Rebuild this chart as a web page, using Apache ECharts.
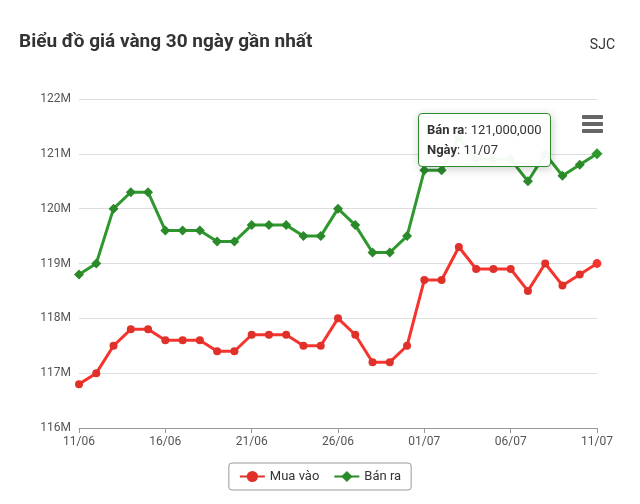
<!DOCTYPE html><html><head><meta charset="utf-8"><script src="https://cdn.jsdelivr.net/npm/echarts@6/dist/echarts.min.js"></script>
<style>body{margin:0;background:#fff}#c{width:640px;height:504px}</style></head><body><div id="c"></div><script>
const dates=["11/06","12/06","13/06","14/06","15/06","16/06","17/06","18/06","19/06","20/06","21/06","22/06","23/06","24/06","25/06","26/06","27/06","28/06","29/06","30/06","01/07","02/07","03/07","04/07","05/07","06/07","07/07","08/07","09/07","10/07","11/07"];
const muaVao=[116.8,117.0,117.5,117.8,117.8,117.6,117.6,117.6,117.4,117.4,117.7,117.7,117.7,117.5,117.5,118.0,117.7,117.2,117.2,117.5,118.7,118.7,119.3,118.9,118.9,118.9,118.5,119.0,118.6,118.8,119.0];
const banRa=[118.8,119.0,120.0,120.3,120.3,119.6,119.6,119.6,119.4,119.4,119.7,119.7,119.7,119.5,119.5,120.0,119.7,119.2,119.2,119.5,120.7,120.7,121.3,120.9,120.9,120.9,120.5,121.0,120.6,120.8,121.0];
const ch=echarts.init(document.getElementById('c'));
const fmt=v=>(v*1e6).toLocaleString('en-US');
ch.setOption({
 animation:false,
 title:[{text:'Biểu đồ giá vàng 30 ngày gần nhất',left:14,top:28,textStyle:{fontFamily:'Roboto',fontSize:19,fontWeight:'bold',color:'#333'}},
        {text:'SJC',right:20,top:33,textStyle:{fontFamily:'Roboto',fontSize:14,fontWeight:'normal',color:'#333'}}],
 toolbox:{show:true,right:22,top:100,itemSize:20,feature:{myMenu:{show:true,title:'menu',icon:'path://M0,2H20V5H0Z M0,9H20V12H0Z M0,16H20V19H0Z',onclick:function(){}}},iconStyle:{color:'#666',borderColor:'#666'}},
 tooltip:{trigger:'axis',alwaysShowContent:true,backgroundColor:'rgba(255,255,255,0.95)',borderColor:'#2e8b2e',borderWidth:1,padding:[6,8],textStyle:{fontFamily:'Roboto',fontSize:13,color:'#333'},
  axisPointer:{type:'none'},
  position:function(p,params,dom,rect,size){return [418,113];},
  formatter:function(ps){const p=ps.find(x=>x.seriesName==='Bán ra')||ps[0];return '<b>Bán ra</b>: '+fmt(p.value)+'<br/><b>Ngày</b>: '+p.name;}},
 legend:{bottom:14,left:'center',data:['Mua vào','Bán ra'],borderColor:'#999',borderWidth:1,borderRadius:3,padding:[7,10],itemGap:14,textStyle:{fontFamily:'Roboto',fontSize:13,color:'#333'}},
 grid:{left:79,right:43,top:99,bottom:76},
 xAxis:{type:'category',data:dates,boundaryGap:false,axisLine:{lineStyle:{color:'#999'}},axisTick:{show:true,interval:4,lineStyle:{color:'#999'}},axisLabel:{interval:4,color:'#555',fontFamily:'Roboto',fontSize:12}},
 yAxis:{type:'value',min:116,max:122,interval:1,axisLabel:{formatter:v=>v+'M',color:'#555',fontFamily:'Roboto',fontSize:12},splitLine:{lineStyle:{color:'#ddd'}}},
 series:[
  {name:'Mua vào',type:'line',data:muaVao,color:'#e0302a',symbol:'circle',symbolSize:8,lineStyle:{width:3}},
  {name:'Bán ra',type:'line',data:banRa,color:'#2a8a2a',symbol:'diamond',symbolSize:10,lineStyle:{width:3}}
 ]
});
setTimeout(()=>ch.dispatchAction({type:'showTip',seriesIndex:1,dataIndex:30}),50);
</script></body></html>
